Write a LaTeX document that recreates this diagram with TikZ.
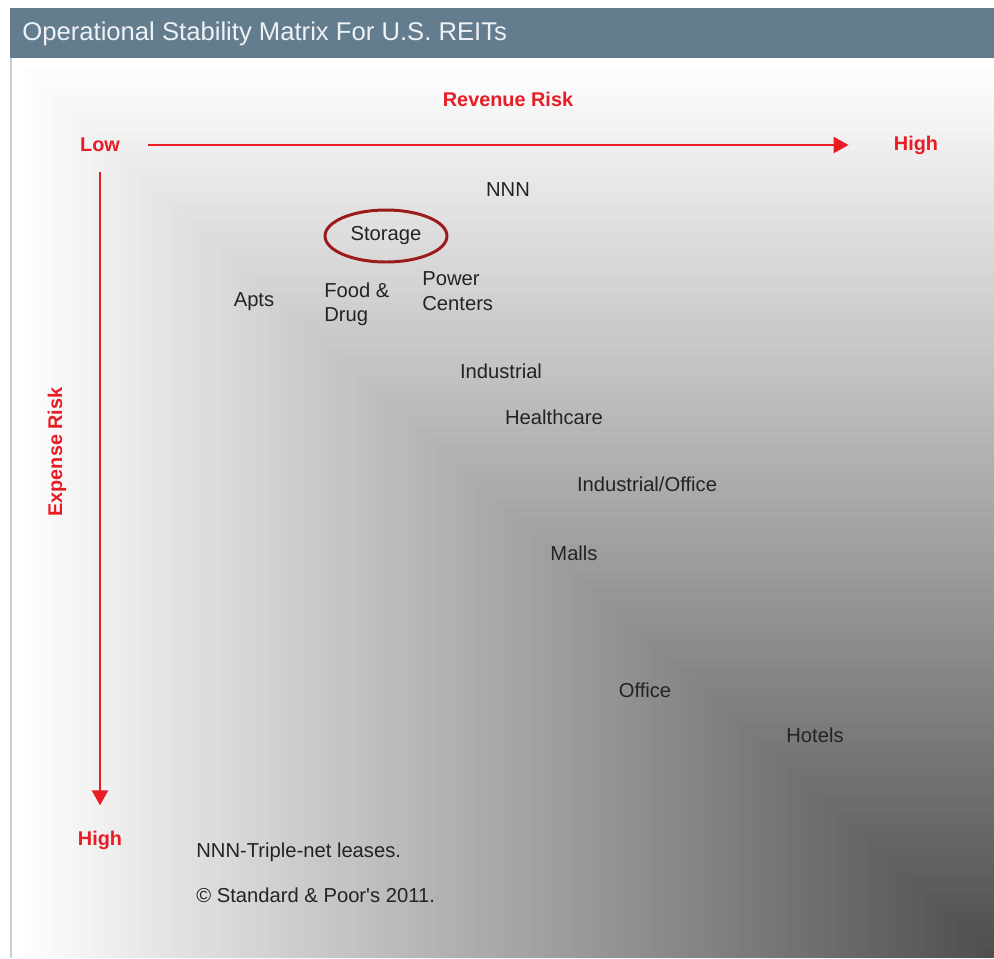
\documentclass[tikz,border=0pt]{standalone}
\usepackage{fontspec}
\setmainfont{Liberation Sans}
\usepackage{tikz}
\usetikzlibrary{shapes.geometric, arrows.meta, positioning, calc}
\definecolor{headerslate}{RGB}{100,125,142}
\definecolor{riskred}{RGB}{232,28,36}
\definecolor{ovalred}{RGB}{155,27,27}
\definecolor{inkgray}{RGB}{35,35,35}
\definecolor{framegray}{RGB}{200,210,218}
\definecolor{titlewhite}{RGB}{238,242,245}

\begin{document}
\begin{tikzpicture}[
    x=0.02cm, y=-0.02cm,
    risklabel/.style={text=riskred, font=\bfseries\fontsize{11.3}{13.5}\selectfont, inner sep=0pt},
    sector/.style={text=inkgray, font=\fontsize{11.5}{13.9}\selectfont, inner sep=0pt, align=left},
    riskarrow/.style={-{Triangle[length=0.3cm, width=0.32cm]}, line width=1.4pt, riskred}
]
\useasboundingbox (0,0) rectangle (994,958);
\fill[white] (0,0) rectangle (994,958);

% shaded panel, lightest top-left
\foreach \i in {0,...,99} {
    \pgfmathsetmacro{\shade}{69*\i/99}
    \fill[black!\shade] ({14+\i*9.8},{60+\i*8.96}) rectangle (994,958);
}
\draw[framegray, line width=1.2pt] (11,58) -- (11,958);

% title bar
\fill[headerslate] (10,8) rectangle (994,58);
\node[anchor=west, text=titlewhite, font=\fontsize{14.6}{17}\selectfont, inner sep=0pt] (title) at (22,34) {Operational Stability Matrix For U.S. REITs};

% axes
\node[risklabel] (revenue) at (508,99) {Revenue Risk};
\node[risklabel] (low) at (100,145) {Low};
\node[risklabel] (highx) at (916,145) {High};
\node[risklabel] (highy) at (100,840) {High};
\node[risklabel, rotate=90] (expense) at (57,452) {Expense Risk};
\draw[riskarrow, shorten <=0.56cm, shorten >=0.9cm] (low.east) -- (highx.west);
\draw[riskarrow, shorten <=0.4cm, shorten >=0.5cm] (low.south) -- (highy.north);

% property types
\node[sector] (nnn) at (508,190) {NNN};
\node[sector, ellipse, draw=ovalred, line width=1.7pt, minimum width=2.44cm, minimum height=1.04cm] (storage) at (386,236) {Storage};
\node[sector] (apts) at (254,302) {Apts};
\node[sector, anchor=west] (food) at (324,304) {Food \&\\Drug};
\node[sector, anchor=west] (power) at (422,291) {Power\\Centers};
\node[sector] (industrial) at (501,371) {Industrial};
\node[sector] (healthcare) at (554,417) {Healthcare};
\node[sector] (indoffice) at (647,484) {Industrial/Office};
\node[sector] (malls) at (574,553) {Malls};
\node[sector] (office) at (645,690) {Office};
\node[sector] (hotels) at (815,735) {Hotels};

% notes
\node[sector, anchor=west] (nnnnote) at (196,852) {NNN-Triple-net leases.};
\node[sector, anchor=west] (copyright) at (196,895) {\textcopyright\ Standard \& Poor\textquotesingle s 2011.};
\end{tikzpicture}
\end{document}
